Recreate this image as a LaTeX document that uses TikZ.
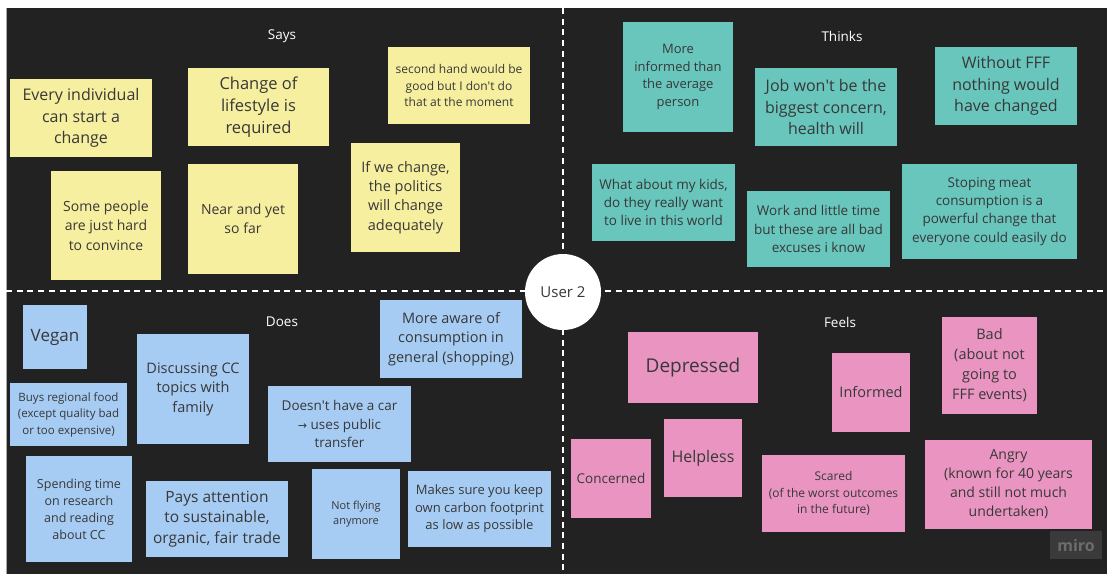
\documentclass[tikz,border=0pt]{standalone}
\usepackage{fontspec}
\setmainfont{Open Sans}
\definecolor{bgc}{HTML}{222222}
\definecolor{yelc}{HTML}{F6EF9F}
\definecolor{tealc}{HTML}{68C6BD}
\definecolor{bluec}{HTML}{A6CCF4}
\definecolor{pinkc}{HTML}{EA95C1}
\definecolor{txtc}{HTML}{383838}
\definecolor{miroc}{HTML}{3A3A3A}
\definecolor{mirot}{HTML}{6C6C6C}
\newcommand{\fz}[2]{\fontsize{#1}{#2}\selectfont}
\newcommand{\aq}{\textquotesingle}
\tikzset{
  note/.style={rectangle, inner sep=0pt, align=center, text=txtc},
  ynote/.style={note, fill=yelc},
  tnote/.style={note, fill=tealc},
  bnote/.style={note, fill=bluec},
  pnote/.style={note, fill=pinkc},
  quadtitle/.style={text=white, font=\fz{13.5}{16}, inner sep=0pt},
  divider/.style={white, line width=1.5pt, dash pattern=on 6pt off 4.7pt},
}
\begin{document}
\begin{tikzpicture}[x=1pt,y=-1pt]
\useasboundingbox (0,0) rectangle (1107,574);
\fill[white] (0,0) rectangle (1107,574);
\fill[bgc] (6,8) rectangle (1107,574);
\draw[gray!70, line width=0.8pt] (6,8) -- (6,574);
% dividers
\coordinate (hl) at (6,291);
\coordinate (hr) at (1107,291);
\coordinate (vt) at (563,8);
\coordinate (vb) at (563,574);
\draw[divider] (hl) -- (hr);
\draw[divider] (vt) -- (vb);
\node[circle, fill=white, minimum size=76pt, inner sep=0pt, text=txtc, font=\fz{15}{18}] (user) at (563,292) {User 2};

% titles
\node[quadtitle] (says) at (282,36) {Says};
\node[quadtitle] (thinks) at (842,36) {Thinks};
\node[quadtitle] (does) at (282,322) {Does};
\node[quadtitle] (feels) at (840,322) {Feels};

% Says
\node[ynote, minimum width=142pt, minimum height=78pt, font=\fz{16}{21.5}] (s1) at (81,118) {Every individual\\can start a\\change};
\node[ynote, minimum width=141pt, minimum height=78pt, font=\fz{16.5}{22}] (s2) at (258.5,107) {Change of\\lifestyle is\\required};
\node[ynote, minimum width=142pt, minimum height=77pt, font=\fz{12}{16.5}] (s3) at (459,85.5) {second hand would be\\good but I don\aq t do\\that at the moment};
\node[ynote, minimum width=110pt, minimum height=109pt, font=\fz{14}{19.5}] (s4) at (106,225.5) {Some people\\are just hard\\to convince};
\node[ynote, minimum width=110pt, minimum height=110pt, font=\fz{14}{19}] (s5) at (243,219) {Near and yet\\so far};
\node[ynote, minimum width=109pt, minimum height=109pt, font=\fz{14.5}{19.3}] (s6) at (405.5,197.5) {If we change,\\the politics\\will change\\adequately};

% Thinks
\node[tnote, minimum width=110pt, minimum height=110pt, font=\fz{13}{17.5}] (t1) at (678,77) {More\\informed than\\the average\\person};
\node[tnote, minimum width=142pt, minimum height=78pt, font=\fz{16}{21.5}] (t2) at (826,107) {Job won\aq t be the\\biggest concern,\\health will};
\node[tnote, minimum width=142pt, minimum height=78pt, font=\fz{16}{21.5}] (t3) at (1006,86) {Without FFF\\nothing would\\have changed};
\node[tnote, minimum width=143pt, minimum height=77pt, font=\fz{13.5}{18}] (t4) at (663.5,202.5) {What about my kids,\\do they really want\\to live in this world};
\node[tnote, minimum width=143pt, minimum height=76pt, font=\fz{13.5}{18.5}] (t5) at (818.5,229) {Work and little time\\but these are all bad\\excuses i know};
\node[tnote, minimum width=175pt, minimum height=95pt, font=\fz{13.5}{18.3}] (t6) at (989.5,211.5) {Stoping meat\\consumption is a\\powerful change that\\everyone could easily do};

% Does
\node[bnote, minimum width=64pt, minimum height=64pt, font=\fz{17}{20}] (d1) at (55,337) {Vegan};
\node[bnote, minimum width=117pt, minimum height=63pt, font=\fz{11.5}{16.5}] (d2) at (68.5,414.5) {Buys regional food\\(except quality bad\\or too expensive)};
\node[bnote, minimum width=112pt, minimum height=110pt, font=\fz{14.5}{19.5}] (d3) at (193,389) {Discussing CC\\topics with\\family};
\node[bnote, minimum width=142pt, minimum height=78pt, font=\fz{14.5}{19.5}] (d4) at (451,339) {More aware of\\consumption in\\general (shopping)};
\node[bnote, minimum width=143pt, minimum height=76pt, font=\fz{13.5}{18.3}] (d5) at (339.5,424) {Doesn\aq t have a car\\{\fontspec{DejaVu Sans}\fz{11}{18.3}→} uses public\\transfer};
\node[bnote, minimum width=106pt, minimum height=106pt, font=\fz{12.5}{17}] (d6) at (79,509) {Spending time\\on research\\and reading\\about CC};
\node[bnote, minimum width=142pt, minimum height=76pt, font=\fz{15.5}{20.5}] (d7) at (217,519) {Pays attention\\to sustainable,\\organic, fair trade};
\node[bnote, minimum width=88pt, minimum height=90pt, font=\fz{11}{15.5}] (d8) at (356,514) {Not flying\\anymore};
\node[bnote, minimum width=143pt, minimum height=76pt, font=\fz{13}{17.5}] (d9) at (479.5,509) {Makes sure you keep\\own carbon footprint\\as low as possible};

% Feels
\node[pnote, minimum width=130pt, minimum height=71pt, font=\fz{19}{22}] (f1) at (693,367.5) {Depressed};
\node[pnote, minimum width=78pt, minimum height=79pt, font=\fz{14.5}{18}] (f2) at (871,392.5) {Informed};
\node[pnote, minimum width=95pt, minimum height=97pt, font=\fz{14.5}{20}] (f3) at (989.5,365.5) {Bad\\(about not\\going to\\FFF events)};
\node[pnote, minimum width=80pt, minimum height=79pt, font=\fz{13.5}{17}] (f4) at (611,478.5) {Concerned};
\node[pnote, minimum width=78pt, minimum height=78pt, font=\fz{16}{19}] (f5) at (703,458) {Helpless};
\node[pnote, minimum width=143pt, minimum height=77pt, font=\fz{12}{16.5}] (f6) at (833.5,493.5) {Scared\\(of the worst outcomes\\in the future)};
\node[pnote, minimum width=167pt, minimum height=89pt, font=\fz{14}{19}] (f7) at (1008.5,484.5) {Angry\\(known for 40 years\\and still not much\\undertaken)};

% miro logo
\node[rectangle, fill=miroc, minimum width=52pt, minimum height=28pt, inner sep=0pt, text=mirot, font=\fz{16}{18}\bfseries] (miro) at (1076,545) {miro};
\end{tikzpicture}
\end{document}
